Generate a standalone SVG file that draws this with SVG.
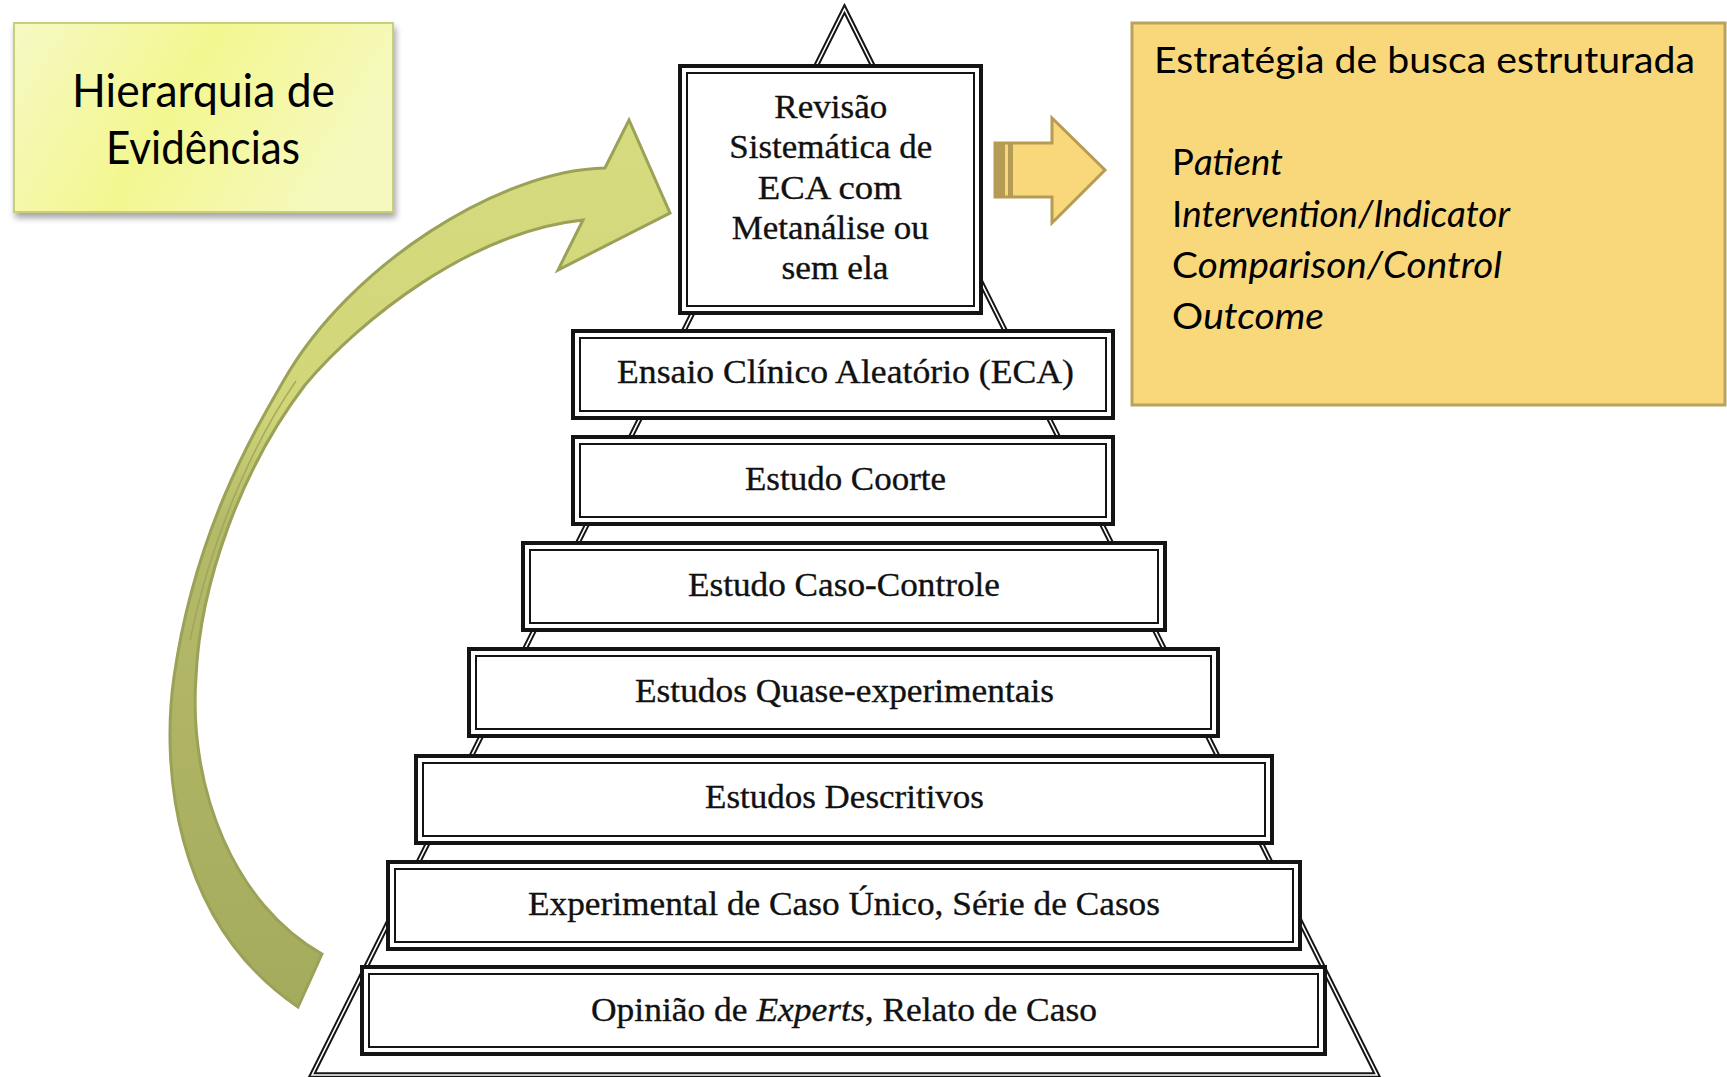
<svg xmlns="http://www.w3.org/2000/svg" width="1727" height="1077" viewBox="0 0 1727 1077">
  <defs>
    <style>
      .bo { fill: #ffffff; stroke: #141414; stroke-width: 4; }
      .bi { fill: none; stroke: #141414; stroke-width: 2; }
      .lvl { font-family: "Liberation Serif", "Times New Roman", serif; font-size: 34px; fill: #111111; stroke: #111111; stroke-width: 0.35; text-anchor: middle; }
      .gs { font-family: Lato, "Open Sans", sans-serif; fill: #000000; }
      .it { font-style: italic; }
      .tri-a { fill: none; stroke: #141414; stroke-width: 5.5; stroke-linejoin: miter; }
      .tri-b { fill: none; stroke: #ffffff; stroke-width: 1.6; stroke-linejoin: miter; }
    </style>
    <linearGradient id="yg" x1="0" y1="0" x2="1" y2="0.3">
      <stop offset="0" stop-color="#f6f9c4"/>
      <stop offset="0.5" stop-color="#f3f790"/>
      <stop offset="1" stop-color="#f6f9bd"/>
    </linearGradient>
    <linearGradient id="gg" gradientUnits="userSpaceOnUse" x1="0" y1="120" x2="0" y2="1007">
      <stop offset="0" stop-color="#d5db7e"/>
      <stop offset="0.32" stop-color="#d1d779"/>
      <stop offset="0.45" stop-color="#b5bb69"/>
      <stop offset="1" stop-color="#a5ab5d"/>
    </linearGradient>
    <filter id="sh" x="-10%" y="-10%" width="125%" height="130%">
      <feDropShadow dx="2" dy="5" stdDeviation="3" flood-color="#000000" flood-opacity="0.35"/>
    </filter>
  </defs>

  <rect width="1727" height="1077" fill="#ffffff"/>

  <g id="pyramid-outline">
    <path class="tri-a" d="M 312 1075 L 844.5 9 L 1377 1075 Z"/>
    <path class="tri-b" d="M 312 1075 L 844.5 9 L 1377 1075 Z"/>
  </g>

  <g id="node-revisao">
    <rect class="bo" x="680" y="66" width="301" height="247"/>
    <rect class="bi" x="687" y="73" width="287" height="233"/>
    <text class="lvl">
      <tspan x="835" y="118" textLength="113" lengthAdjust="spacingAndGlyphs">Revisão</tspan>
      <tspan x="835" y="158" textLength="203" lengthAdjust="spacingAndGlyphs">Sistemática de</tspan>
      <tspan x="834" y="199" textLength="144" lengthAdjust="spacingAndGlyphs">ECA com</tspan>
      <tspan x="834.5" y="239" textLength="197" lengthAdjust="spacingAndGlyphs">Metanálise ou</tspan>
      <tspan x="835" y="279" textLength="107" lengthAdjust="spacingAndGlyphs">sem ela</tspan>
    </text>
  </g>

  <g id="node-eca">
    <rect class="bo" x="573" y="331" width="540" height="87"/>
    <rect class="bi" x="580" y="338" width="526" height="73"/>
    <text class="lvl" x="845.5" y="383" textLength="457" lengthAdjust="spacingAndGlyphs">Ensaio Clínico Aleatório (ECA)</text>
  </g>

  <g id="node-coorte">
    <rect class="bo" x="573" y="437" width="540" height="87"/>
    <rect class="bi" x="580" y="444" width="526" height="73"/>
    <text class="lvl" x="845.5" y="490" textLength="201" lengthAdjust="spacingAndGlyphs">Estudo Coorte</text>
  </g>

  <g id="node-caso-controle">
    <rect class="bo" x="523" y="543" width="642" height="87"/>
    <rect class="bi" x="530" y="550" width="628" height="73"/>
    <text class="lvl" x="844" y="596" textLength="312" lengthAdjust="spacingAndGlyphs">Estudo Caso-Controle</text>
  </g>

  <g id="node-quase">
    <rect class="bo" x="469" y="649" width="749" height="87"/>
    <rect class="bi" x="476" y="656" width="735" height="73"/>
    <text class="lvl" x="844.5" y="702" textLength="419" lengthAdjust="spacingAndGlyphs">Estudos Quase-experimentais</text>
  </g>

  <g id="node-descritivos">
    <rect class="bo" x="416" y="756" width="856" height="87"/>
    <rect class="bi" x="423" y="763" width="842" height="73"/>
    <text class="lvl" x="844.5" y="808" textLength="279" lengthAdjust="spacingAndGlyphs">Estudos Descritivos</text>
  </g>

  <g id="node-experimental">
    <rect class="bo" x="388" y="862" width="912" height="87"/>
    <rect class="bi" x="395" y="869" width="898" height="73"/>
    <text class="lvl" x="844" y="915" textLength="632" lengthAdjust="spacingAndGlyphs">Experimental de Caso Único, Série de Casos</text>
  </g>

  <g id="node-opiniao">
    <rect class="bo" x="362" y="967" width="963" height="87"/>
    <rect class="bi" x="369" y="974" width="949" height="73"/>
    <text class="lvl" x="844" y="1021" textLength="506" lengthAdjust="spacingAndGlyphs">Opinião de <tspan class="it">Experts</tspan>, Relato de Caso</text>
  </g>

  <g id="node-hierarquia">
    <rect x="14" y="23" width="379" height="189" fill="url(#yg)" stroke="#c9ce7b" stroke-width="2" filter="url(#sh)"/>
    <text class="gs" font-size="46" x="72" y="107" textLength="263" lengthAdjust="spacingAndGlyphs">Hierarquia de</text>
    <text class="gs" font-size="46" x="106" y="164" textLength="194" lengthAdjust="spacingAndGlyphs">Evidências</text>
  </g>

  <g id="node-estrategia">
    <rect x="1132" y="23" width="593" height="382" fill="#f9d87b" stroke="#b9a25d" stroke-width="3"/>
    <text class="gs" font-size="37" x="1154" y="73" textLength="541" lengthAdjust="spacingAndGlyphs">Estratégia de busca estruturada</text>
    <text class="gs" font-size="36" x="1172" y="175" textLength="111" lengthAdjust="spacingAndGlyphs">P<tspan class="it">atient</tspan></text>
    <text class="gs" font-size="36" x="1172" y="227" textLength="338" lengthAdjust="spacingAndGlyphs">I<tspan class="it">ntervention/Indicator</tspan></text>
    <text class="gs" font-size="36" x="1172" y="278" textLength="330" lengthAdjust="spacingAndGlyphs">C<tspan class="it">omparison/Control</tspan></text>
    <text class="gs" font-size="36" x="1172" y="329" textLength="152" lengthAdjust="spacingAndGlyphs">O<tspan class="it">utcome</tspan></text>
  </g>

  <g id="connectors">
    <g id="curved-arrow">
      <path d="M 605 168
               C 500 170 350 265 284 380
               C 255 430 195 530 174 677
               C 162 760 170 920 298 1007
               L 322 954
               C 235 905 188 790 196 677
               C 200 585 240 470 305 385
               C 360 320 470 232 583 220
               L 558 270 L 670 213 L 629 120 Z"
            fill="url(#gg)" stroke="#9ba157" stroke-width="3" stroke-linejoin="miter"/>
      <path d="M 296 381 C 262 430 215 520 190 640" fill="none" stroke="#9ba157" stroke-width="1.5" opacity="0.8"/>
    </g>
    <g id="block-arrow">
      <path d="M 995 143 H 1052 V 118 L 1105 170 L 1052 223 V 197 H 995 Z" fill="#f9d87b" stroke="#b69b55" stroke-width="3"/>
      <rect x="995" y="143" width="10" height="54" fill="#b69b55"/>
      <rect x="1008" y="143" width="5" height="54" fill="#b69b55"/>
    </g>
  </g>
</svg>
